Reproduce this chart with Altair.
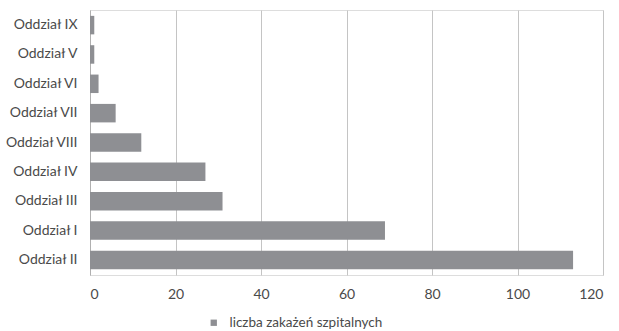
import altair as alt
import pandas as pd

# Hospital wards and number of hospital-acquired infections
wards = ["Oddział IX", "Oddział V", "Oddział VI", "Oddział VII", "Oddział VIII",
         "Oddział IV", "Oddział III", "Oddział I", "Oddział II"]
infections = [1, 1, 2, 6, 12, 27, 31, 69, 113]
series_name = "liczba zakażeń szpitalnych"

df = pd.DataFrame({"ward": wards, "count": infections, "series": [series_name] * len(wards)})

FONT = "Lato"
TEXT = "#4a4a4a"

chart = alt.Chart(df).mark_bar(
    color="#8e8f93",
).encode(
    x=alt.X("count:Q",
            scale=alt.Scale(domain=[0, 120], nice=False),
            axis=alt.Axis(values=[0, 20, 40, 60, 80, 100, 120], title=None, domain=False,
                          ticks=False, grid=True, gridColor="#c4c4c4", gridWidth=1,
                          labelPadding=12, labelFontSize=14, labelColor=TEXT, labelFont=FONT)),
    y=alt.Y("ward:N", sort=wards,
            scale=alt.Scale(paddingInner=0.37, paddingOuter=0.2),
            axis=alt.Axis(title=None, domain=True, domainColor="#b0b0b0", ticks=False,
                          labelPadding=13, labelFontSize=14, labelColor=TEXT, labelFont=FONT)),
    color=alt.Color("series:N",
                    scale=alt.Scale(range=["#8e8f93"]),
                    legend=alt.Legend(title=None, orient="none", legendX=117, legendY=306,
                                      symbolType="square", symbolSize=40, symbolStrokeWidth=0,
                                      labelFontSize=13.5, labelColor=TEXT, labelFont=FONT,
                                      labelOffset=9)),
).properties(
    width=513,
    height=265,
    autosize=alt.AutoSizeParams(type="none"),
    padding={"left": 90, "top": 10, "right": 16, "bottom": 56},
).configure_view(
    stroke=None,
).configure(
    background="white",
)

chart.save("out.html", embed_options={"renderer": "svg", "actions": False})
